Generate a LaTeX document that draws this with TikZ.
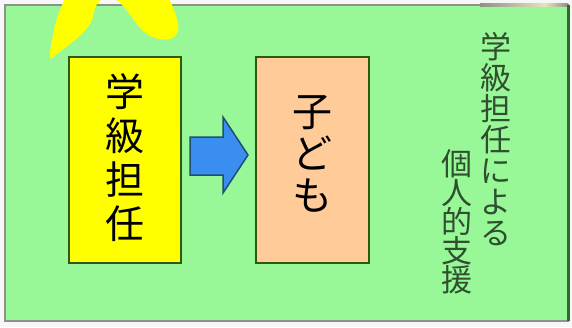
\documentclass[tikz,border=0pt]{standalone}
\usepackage{fontspec}
\newfontfamily\jp{Noto Sans CJK JP}
\definecolor{bggreen}{HTML}{98F898}
\definecolor{boxyellow}{HTML}{FFFF00}
\definecolor{peach}{HTML}{FFCC99}
\definecolor{boxedge}{HTML}{2E5A10}
\definecolor{arrowblue}{HTML}{3A8EF0}
\definecolor{arrowedge}{HTML}{1F4F6F}
\definecolor{sidetext}{HTML}{2F4F2F}
\definecolor{framegray}{HTML}{8A928A}
\definecolor{frameright}{HTML}{2F6A2F}
\definecolor{cornerbeige}{HTML}{E8E4B8}
\tikzset{
  panel/.style={draw=boxedge, line width=2pt, inner sep=0pt},
  bigtext/.style={font=\jp\fontsize{39}{44}\selectfont, align=center, text=black, inner sep=0pt},
  kidtext/.style={font=\jp\fontsize{40}{42}\selectfont, align=center, text=black, inner sep=0pt},
  sidecol/.style={font=\jp\fontsize{31}{31}\selectfont, align=center, text=sidetext, inner sep=0pt},
}
\begin{document}
\begin{tikzpicture}[x=1pt,y=-1pt]
\useasboundingbox (0,0) rectangle (572,327);
\fill[white!94!gray] (0,0) rectangle (572,327);
% outer panel
\draw[fill=bggreen, draw=framegray, line width=2.5pt] (5,5) rectangle (568,321);
\shade[left color=framegray, right color=cornerbeige] (480,3.75) rectangle (545,6.25);
\shade[left color=cornerbeige, right color=framegray] (545,3.75) rectangle (568,6.25);
\draw[frameright, line width=3pt] (568,5) -- (568,321);
% yellow brush arc
\fill[boxyellow] plot[smooth cycle, tension=0.6] coordinates {
  (50,58) (52,40) (56,22) (63,3) (75,-15) (112,-30) (150,-18) (168,-2)
  (176,16) (178,31) (170,39) (155,38) (142,30) (128,12) (119,2) (108,-3)
  (97,4) (90,24) (75,40) (58,53)};
% boxes
\node[panel, fill=boxyellow, minimum width=112pt, minimum height=206pt] (teacher) at (125,160) {};
\node[bigtext] (teachertext) at (125,158) {学\\級\\担\\任};
\node[panel, fill=peach, minimum width=113pt, minimum height=206pt] (child) at (312.5,160) {};
\node[kidtext] (childtext) at (312.5,154) {子\\ど\\も};
% block arrow
\coordinate (a1) at (190,137);
\coordinate (a2) at (223,137);
\coordinate (a3) at (223,117);
\coordinate (tip) at (248,155);
\coordinate (a5) at (223,193);
\coordinate (a6) at (223,175);
\coordinate (a7) at (190,175);
\draw[fill=arrowblue, draw=arrowedge, line width=1.5pt, line join=miter]
  (a1) -- (a2) -- (a3) -- (tip) -- (a5) -- (a6) -- (a7) -- cycle;
% side text
\node[sidecol] (sideA) at (496,139) {学\\級\\担\\任\\に\\よ\\る};
\node[sidecol, font=\jp\fontsize{31}{29}\selectfont] (sideB) at (457,222) {個\\人\\的\\支\\援};
\end{tikzpicture}
\end{document}
